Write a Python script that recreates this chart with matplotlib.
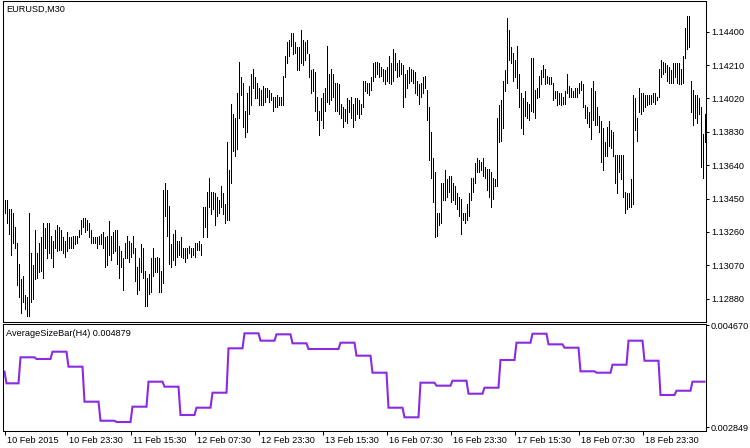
import matplotlib
matplotlib.use("Agg")
import matplotlib.pyplot as plt
import matplotlib.transforms as mtransforms
from matplotlib.ticker import FormatStrFormatter
import numpy as np

# EURUSD M30 bars, high / low, first bar 10 Feb 2015 08:00
high = [
    1.1344, 1.1344, 1.1339, 1.1339, 1.1337, 1.1329, 1.1320, 1.1308, 1.1299, 1.1301,
    1.1290, 1.1289, 1.1337, 1.1314, 1.1307, 1.1327, 1.1314, 1.1320, 1.1323, 1.1331,
    1.1328, 1.1331, 1.1331, 1.1324, 1.1321, 1.1327, 1.1330, 1.1329, 1.1327, 1.1323,
    1.1321, 1.1326, 1.1323, 1.1323, 1.1324, 1.1324, 1.1324, 1.1327, 1.1333, 1.1334,
    1.1334, 1.1333, 1.1331, 1.1327, 1.1323, 1.1323, 1.1323, 1.1324, 1.1325, 1.1326,
    1.1323, 1.1324, 1.1332, 1.1324, 1.1326, 1.1327, 1.1327, 1.1318, 1.1315, 1.1311,
    1.1320, 1.1324, 1.1321, 1.1320, 1.1324, 1.1317, 1.1306, 1.1311, 1.1319, 1.1317,
    1.1304, 1.1300, 1.1302, 1.1311, 1.1317, 1.1311, 1.1312, 1.1311, 1.1304, 1.1350,
    1.1354, 1.1350, 1.1341, 1.1319, 1.1325, 1.1327, 1.1321, 1.1321, 1.1323, 1.1317,
    1.1317, 1.1317, 1.1318, 1.1317, 1.1317, 1.1320, 1.1320, 1.1321, 1.1319, 1.1340,
    1.1340, 1.1349, 1.1357, 1.1349, 1.1349, 1.1348, 1.1346, 1.1344, 1.1352, 1.1348,
    1.1342, 1.1377, 1.1361, 1.1399, 1.1393, 1.1391, 1.1405, 1.1423, 1.1414, 1.1411,
    1.1395, 1.1405, 1.1409, 1.1416, 1.1419, 1.1414, 1.1411, 1.1408, 1.1407, 1.1409,
    1.1408, 1.1408, 1.1407, 1.1405, 1.1403, 1.1403, 1.1404, 1.1403, 1.1403, 1.1415,
    1.1426, 1.1434, 1.1435, 1.1439, 1.1439, 1.1434, 1.1431, 1.1431, 1.1441, 1.1435,
    1.1434, 1.1435, 1.1427, 1.1418, 1.1419, 1.1417, 1.1403, 1.1395, 1.1402, 1.1405,
    1.1408, 1.1432, 1.1416, 1.1419, 1.1416, 1.1411, 1.1411, 1.1410, 1.1399, 1.1397,
    1.1396, 1.1402, 1.1401, 1.1403, 1.1399, 1.1402, 1.1402, 1.1401, 1.1399, 1.1412,
    1.1412, 1.1411, 1.1411, 1.1414, 1.1422, 1.1423, 1.1423, 1.1422, 1.1420, 1.1419,
    1.1418, 1.1420, 1.1426, 1.1422, 1.1430, 1.1428, 1.1422, 1.1424, 1.1422, 1.1421,
    1.1416, 1.1418, 1.1420, 1.1419, 1.1418, 1.1417, 1.1412, 1.1410, 1.1411, 1.1414,
    1.1415, 1.1407, 1.1397, 1.1383, 1.1368, 1.1360, 1.1337, 1.1337, 1.1354, 1.1354,
    1.1361, 1.1356, 1.1358, 1.1358, 1.1354, 1.1352, 1.1348, 1.1346, 1.1345, 1.1337,
    1.1337, 1.1342, 1.1348, 1.1357, 1.1357, 1.1365, 1.1368, 1.1367, 1.1366, 1.1368,
    1.1363, 1.1362, 1.1362, 1.1360, 1.1357, 1.1356, 1.1391, 1.1398, 1.1401, 1.1412,
    1.1418, 1.1448, 1.1441, 1.1431, 1.1428, 1.1424, 1.1432, 1.1416, 1.1405, 1.1402,
    1.1406, 1.1400, 1.1399, 1.1425, 1.1425, 1.1407, 1.1408, 1.1415, 1.1418, 1.1421,
    1.1419, 1.1415, 1.1414, 1.1414, 1.1411, 1.1406, 1.1406, 1.1405, 1.1405, 1.1403,
    1.1406, 1.1416, 1.1409, 1.1408, 1.1406, 1.1408, 1.1408, 1.1411, 1.1412, 1.1410,
    1.1398, 1.1397, 1.1394, 1.1408, 1.1412, 1.1406, 1.1397, 1.1392, 1.1389, 1.1385,
    1.1377, 1.1386, 1.1389, 1.1384, 1.1383, 1.1370, 1.1370, 1.1370, 1.1370, 1.1370,
    1.1349, 1.1348, 1.1348, 1.1356, 1.1404, 1.1402, 1.1391, 1.1408, 1.1405, 1.1405,
    1.1404, 1.1404, 1.1404, 1.1404, 1.1405, 1.1405, 1.1403, 1.1419, 1.1424, 1.1423,
    1.1422, 1.1421, 1.1420, 1.1418, 1.1422, 1.1422, 1.1422, 1.1422, 1.1419, 1.1426,
    1.1442, 1.1449, 1.1449, 1.1412, 1.1407, 1.1404, 1.1404, 1.1402, 1.1397, 1.1382,
    1.1393,
]
low = [
    1.1337, 1.1331, 1.1325, 1.1313, 1.1320, 1.1317, 1.1296, 1.1289, 1.1280, 1.1286,
    1.1282, 1.1278, 1.1278, 1.1286, 1.1288, 1.1299, 1.1300, 1.1303, 1.1304, 1.1300,
    1.1317, 1.1311, 1.1314, 1.1311, 1.1306, 1.1317, 1.1315, 1.1316, 1.1316, 1.1314,
    1.1312, 1.1315, 1.1317, 1.1317, 1.1317, 1.1319, 1.1320, 1.1323, 1.1325, 1.1329,
    1.1326, 1.1327, 1.1323, 1.1320, 1.1320, 1.1320, 1.1317, 1.1319, 1.1319, 1.1317,
    1.1306, 1.1307, 1.1313, 1.1310, 1.1314, 1.1315, 1.1308, 1.1300, 1.1306, 1.1293,
    1.1311, 1.1311, 1.1309, 1.1312, 1.1314, 1.1298, 1.1291, 1.1293, 1.1303, 1.1300,
    1.1284, 1.1284, 1.1291, 1.1292, 1.1301, 1.1303, 1.1303, 1.1292, 1.1292, 1.1297,
    1.1335, 1.1324, 1.1308, 1.1306, 1.1310, 1.1307, 1.1312, 1.1313, 1.1312, 1.1311,
    1.1309, 1.1311, 1.1314, 1.1312, 1.1313, 1.1312, 1.1316, 1.1316, 1.1313, 1.1323,
    1.1329, 1.1323, 1.1340, 1.1336, 1.1339, 1.1330, 1.1335, 1.1337, 1.1340, 1.1336,
    1.1331, 1.1333, 1.1333, 1.1354, 1.1372, 1.1369, 1.1373, 1.1391, 1.1404, 1.1386,
    1.1380, 1.1383, 1.1393, 1.1398, 1.1408, 1.1402, 1.1402, 1.1398, 1.1398, 1.1398,
    1.1400, 1.1403, 1.1400, 1.1401, 1.1395, 1.1397, 1.1397, 1.1398, 1.1398, 1.1398,
    1.1414, 1.1422, 1.1426, 1.1432, 1.1427, 1.1428, 1.1418, 1.1418, 1.1422, 1.1421,
    1.1424, 1.1428, 1.1414, 1.1405, 1.1406, 1.1395, 1.1390, 1.1381, 1.1390, 1.1385,
    1.1395, 1.1400, 1.1399, 1.1401, 1.1403, 1.1395, 1.1395, 1.1393, 1.1391, 1.1386,
    1.1389, 1.1388, 1.1394, 1.1391, 1.1386, 1.1390, 1.1393, 1.1391, 1.1393, 1.1397,
    1.1406, 1.1405, 1.1404, 1.1407, 1.1412, 1.1414, 1.1416, 1.1414, 1.1415, 1.1412,
    1.1410, 1.1412, 1.1411, 1.1410, 1.1412, 1.1418, 1.1414, 1.1415, 1.1416, 1.1397,
    1.1403, 1.1408, 1.1411, 1.1412, 1.1411, 1.1405, 1.1404, 1.1399, 1.1403, 1.1405,
    1.1408, 1.1390, 1.1367, 1.1357, 1.1343, 1.1323, 1.1324, 1.1330, 1.1331, 1.1344,
    1.1344, 1.1346, 1.1349, 1.1343, 1.1344, 1.1342, 1.1339, 1.1335, 1.1325, 1.1333,
    1.1331, 1.1333, 1.1335, 1.1344, 1.1349, 1.1354, 1.1360, 1.1360, 1.1361, 1.1358,
    1.1357, 1.1350, 1.1346, 1.1340, 1.1345, 1.1352, 1.1352, 1.1377, 1.1378, 1.1385,
    1.1406, 1.1411, 1.1424, 1.1422, 1.1412, 1.1414, 1.1408, 1.1397, 1.1385, 1.1382,
    1.1392, 1.1391, 1.1390, 1.1395, 1.1394, 1.1391, 1.1402, 1.1403, 1.1410, 1.1414,
    1.1410, 1.1411, 1.1410, 1.1410, 1.1401, 1.1402, 1.1398, 1.1399, 1.1398, 1.1399,
    1.1399, 1.1405, 1.1403, 1.1403, 1.1403, 1.1403, 1.1403, 1.1405, 1.1407, 1.1397,
    1.1391, 1.1388, 1.1386, 1.1379, 1.1390, 1.1387, 1.1387, 1.1383, 1.1366, 1.1361,
    1.1369, 1.1369, 1.1375, 1.1374, 1.1369, 1.1354, 1.1348, 1.1360, 1.1356, 1.1346,
    1.1337, 1.1339, 1.1340, 1.1340, 1.1342, 1.1384, 1.1378, 1.1394, 1.1393, 1.1395,
    1.1397, 1.1398, 1.1399, 1.1399, 1.1400, 1.1399, 1.1401, 1.1403, 1.1414, 1.1416,
    1.1417, 1.1412, 1.1411, 1.1411, 1.1411, 1.1414, 1.1411, 1.1410, 1.1410, 1.1411,
    1.1425, 1.1430, 1.1431, 1.1394, 1.1387, 1.1391, 1.1388, 1.1393, 1.1363, 1.1357,
    1.1377,
]

# AverageSizeBar(H4): one value per H4 block (8 M30 bars), first bar separate
asb_first = 0.003839
asb_h4 = [
    0.003632, 0.004095, 0.004065, 0.004195, 0.003928, 0.003305, 0.002966, 0.002943,
    0.003216, 0.003661, 0.003572, 0.003068, 0.003198, 0.003465, 0.004255, 0.004522,
    0.004391, 0.004504, 0.004344, 0.004243, 0.004243, 0.004355, 0.004124, 0.003821,
    0.003198, 0.003027, 0.003643, 0.003590, 0.003678, 0.003447, 0.003554, 0.004047,
    0.004355, 0.004515, 0.004326, 0.004266, 0.003846, 0.003821, 0.003963, 0.004391,
    0.004034, 0.003424, 0.003500, 0.003661,
]

price_ticks = [1.12880, 1.13070, 1.13260, 1.13450, 1.13640, 1.13830, 1.14020, 1.14210, 1.14400]
ind_ticks = [0.002849, 0.004670]
time_pos = [0, 31, 63, 95, 127, 159, 191, 223, 255, 287, 319]
time_labels = ["10 Feb 2015", "10 Feb 23:30", "11 Feb 15:30", "12 Feb 07:30", "12 Feb 23:30",
               "13 Feb 15:30", "16 Feb 07:30", "16 Feb 23:30", "17 Feb 15:30", "18 Feb 07:30",
               "18 Feb 23:30"]

n = min(len(high), len(low))
idx = np.arange(n)
asb = np.repeat(asb_h4, 8)[:n].astype(float)
asb[0] = asb_first

plt.rcParams["font.family"] = ["Liberation Sans", "DejaVu Sans"]
fs = 6.6
W, H = 750, 448
fig = plt.figure(figsize=(W / 100, H / 100), dpi=100)

def px_axes(left, top, right, bottom):
    return fig.add_axes([left / W, 1 - bottom / H, (right - left) / W, (bottom - top) / H])

ax = px_axes(2.5, 1.5, 705.5, 321.5)
ax2 = px_axes(2.5, 324, 705.5, 430.5)

ax.vlines(idx, low[:n], high[:n], colors="black", linewidth=0.5, antialiased=False)
ax2.plot(idx, asb, color="#8A2BE2", lw=1.5, solid_joinstyle="miter")

for a in (ax, ax2):
    a.set_xlim(-1, 350.5)
    for s in a.spines.values():
        s.set_linewidth(0.75)
        s.set_color("black")
    a.yaxis.tick_right()
    a.tick_params(axis="y", direction="out", length=2.5, width=0.75, pad=1.5, labelsize=fs)

ax.set_ylim(1.127507, 1.145715)
ax.set_yticks(price_ticks)
ax.yaxis.set_major_formatter(FormatStrFormatter("%.5f"))
ax.set_xticks([])

ax2.set_ylim(0.002792, 0.004688)
ax2.set_yticks(ind_ticks)
ax2.yaxis.set_major_formatter(FormatStrFormatter("%.6f"))
ax2.set_xticks(time_pos)
ax2.set_xticklabels(time_labels)
ax2.tick_params(axis="x", direction="out", length=3, width=0.75, pad=1, labelsize=fs)
shift = mtransforms.ScaledTranslation(1.5 / 72, 0, fig.dpi_scale_trans)
for lab in ax2.get_xticklabels():
    lab.set_ha("left")
    lab.set_transform(lab.get_transform() + shift)

fig.text(6 / W, 1 - 9.5 / H, "EURUSD,M30", fontsize=fs, va="center", ha="left")
fig.text(6 / W, 1 - 333.5 / H, "AverageSizeBar(H4) 0.004879", fontsize=fs, va="center", ha="left")

fig.savefig("out.png", dpi=100)
